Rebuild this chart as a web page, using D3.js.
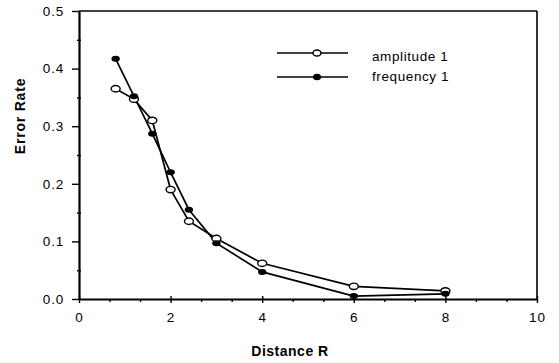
<!DOCTYPE html>
<html><head><meta charset="utf-8">
<script src="https://cdn.jsdelivr.net/npm/d3@7"></script>
<style>
body{margin:0;background:#fff;}
svg{display:block;font-family:"Liberation Sans",Arial,sans-serif;}
</style></head>
<body>
<svg id="c" width="559" height="363"></svg>
<script>
const distance = [0.8, 1.2, 1.6, 2.0, 2.4, 3, 4, 6, 8];
const amplitude = [0.365, 0.347, 0.310, 0.190, 0.135, 0.105, 0.062, 0.022, 0.014];
const frequency = [0.417, 0.352, 0.287, 0.220, 0.155, 0.097, 0.047, 0.005, 0.009];
const xTicks = [0, 2, 4, 6, 8, 10];
const yTicks = [0.0, 0.1, 0.2, 0.3, 0.4, 0.5];
const seriesNames = ["amplitude 1", "frequency 1"];

const svg = d3.select("#c");
const L = 79, R = 537, T = 11, B = 299;
const x = d3.scaleLinear().domain([0, 10]).range([L, R]);
const y = d3.scaleLinear().domain([0, 0.5]).range([B, T]);

// frame top and right
svg.append("line").attr("x1", L).attr("x2", R).attr("y1", T).attr("y2", T)
  .attr("stroke", "#000").attr("stroke-width", 1.6);
svg.append("line").attr("x1", R).attr("x2", R).attr("y1", T).attr("y2", B)
  .attr("stroke", "#000").attr("stroke-width", 1.6);

// minor ticks
const xMinor = d3.range(0, 10.01, 2/3).filter(v => Math.abs(v/2 - Math.round(v/2)) > 0.01);
svg.append("g").attr("transform", `translate(0,${B})`)
  .call(d3.axisBottom(x).tickValues(xMinor).tickSize(3).tickFormat(""))
  .call(g => g.select(".domain").remove())
  .selectAll("line").attr("stroke-width", 1.4);
const yMinor = d3.range(0.05, 0.5, 0.1);
svg.append("g").attr("transform", `translate(${L+2},0)`)
  .call(d3.axisLeft(y).tickValues(yMinor).tickSize(4).tickFormat(""))
  .call(g => g.select(".domain").remove())
  .selectAll("line").attr("stroke-width", 1.4);

// major axes
const xa = svg.append("g").attr("transform", `translate(0,${B})`)
  .call(d3.axisBottom(x).tickValues(xTicks).tickSize(4).tickSizeOuter(0).tickPadding(9).tickFormat(d3.format("d")));
xa.select(".domain").attr("stroke-width", 2.2);
xa.selectAll(".tick line").attr("stroke-width", 1.4).attr("y1", -3);
xa.selectAll("text").attr("font-size", 13.5).attr("letter-spacing", 1).attr("fill", "#000");

const ya = svg.append("g").attr("transform", `translate(${L},0)`)
  .call(d3.axisLeft(y).tickValues(yTicks).tickSize(7).tickSizeOuter(0).tickPadding(8).tickFormat(d3.format(".1f")));
ya.select(".domain").attr("stroke-width", 2.2);
ya.selectAll(".tick line").attr("stroke-width", 1.4);
ya.selectAll("text").attr("font-size", 13.5).attr("letter-spacing", 0.8).attr("fill", "#000");

// axis titles
svg.append("text").attr("x", 290).attr("y", 356).attr("text-anchor", "middle")
  .attr("font-size", 14).attr("font-weight", "bold").attr("letter-spacing", 0.5).text("Distance R");
svg.append("text").attr("transform", "translate(25,116) rotate(-90)").attr("text-anchor", "middle")
  .attr("font-size", 14).attr("font-weight", "bold").attr("letter-spacing", 0.8).text("Error Rate");

// lines
const line = d3.line().x((d, i) => x(distance[i])).y(d => y(d));
[amplitude, frequency].forEach(s => {
  svg.append("path").attr("d", line(s)).attr("fill", "none")
    .attr("stroke", "#000").attr("stroke-width", 1.7);
});

// markers
svg.selectAll(".amp").data(amplitude).enter().append("ellipse")
  .attr("cx", (d, i) => x(distance[i])).attr("cy", d => y(d))
  .attr("rx", 4.5).attr("ry", 3.2).attr("fill", "#fff").attr("stroke", "#000").attr("stroke-width", 1.4);
svg.selectAll(".frq").data(frequency).enter().append("ellipse")
  .attr("cx", (d, i) => x(distance[i])).attr("cy", d => y(d))
  .attr("rx", 4.2).attr("ry", 3).attr("fill", "#000");

// legend
const legY = [53, 77];
const legText = [61, 81];
seriesNames.forEach((name, i) => {
  svg.append("line").attr("x1", 277).attr("x2", 348).attr("y1", legY[i]).attr("y2", legY[i])
    .attr("stroke", "#000").attr("stroke-width", 1.7);
  if (i === 0) {
    svg.append("ellipse").attr("cx", 317).attr("cy", legY[i]).attr("rx", 4).attr("ry", 3)
      .attr("fill", "#fff").attr("stroke", "#000").attr("stroke-width", 1.4);
  } else {
    svg.append("ellipse").attr("cx", 317).attr("cy", legY[i]).attr("rx", 4).attr("ry", 3.2)
      .attr("fill", "#000");
  }
  svg.append("text").attr("x", 372).attr("y", legText[i]).attr("font-size", 13.5)
    .attr("letter-spacing", 0.6).text(name);
});
</script>
</body></html>
